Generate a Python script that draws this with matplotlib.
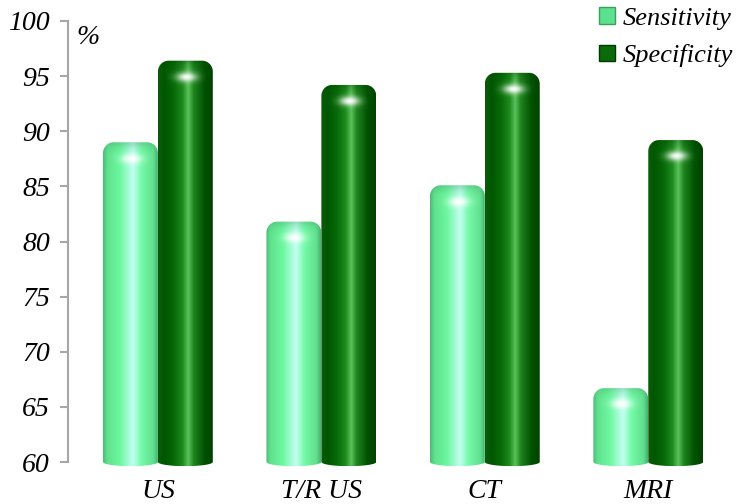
import numpy as np
import matplotlib
matplotlib.use("Agg")
import matplotlib.pyplot as plt
from matplotlib.path import Path
from matplotlib.patches import PathPatch, Patch

# imaging method accuracy (%)
categories = ["US", "T/R US", "CT", "MRI"]
sensitivity = [89.0, 81.8, 85.1, 66.7]
specificity = [96.4, 94.2, 95.3, 89.2]

plt.rcParams['font.family'] = ['Liberation Serif', 'DejaVu Serif']
plt.rcParams['font.style'] = 'italic'

fig = plt.figure(figsize=(7.37, 5.04), dpi=100)
ax = fig.add_axes([68 / 737, 42 / 504, 662 / 737, 441 / 504])

x = np.arange(len(categories))
w = 0.336
ymin, ymax = 60, 100

# horizontal colour profiles of the cylinders (position, rgb)
light_profile = [(0.00, (0.30, 0.74, 0.46)), (0.08, (0.38, 0.88, 0.56)),
                 (0.30, (0.42, 0.97, 0.62)), (0.55, (0.76, 1.00, 0.95)),
                 (0.70, (0.46, 0.98, 0.66)), (0.92, (0.38, 0.88, 0.56)),
                 (1.00, (0.28, 0.70, 0.44))]
dark_profile = [(0.00, (0.04, 0.36, 0.04)), (0.12, (0.00, 0.34, 0.00)),
                (0.30, (0.03, 0.42, 0.03)), (0.45, (0.12, 0.55, 0.12)),
                (0.55, (0.36, 0.76, 0.36)), (0.65, (0.12, 0.52, 0.12)),
                (0.85, (0.00, 0.32, 0.00)), (1.00, (0.00, 0.26, 0.00))]


def profile_rgb(profile, u):
    pos = [p for p, _ in profile]
    return np.stack([np.interp(u, pos, [c[i] for _, c in profile]) for i in range(3)], axis=-1)


def cylinder_path(x0, x1, top, bottom, rx, ry, dip):
    n = 20
    t = np.linspace(np.pi, 2 * np.pi, n)
    xc, hw = (x0 + x1) / 2, (x1 - x0) / 2
    bot = np.column_stack([xc + hw * np.cos(t), bottom + dip * np.sin(t)])
    a = np.linspace(0, np.pi / 2, n)
    right = np.column_stack([x1 - rx + rx * np.cos(a), top - ry + ry * np.sin(a)])
    left = np.column_stack([x0 + rx - rx * np.cos(a[::-1]), top - ry + ry * np.sin(a[::-1])])
    verts = np.vstack([bot, right, left, [[x0, bottom]]])
    codes = [Path.MOVETO] + [Path.LINETO] * (len(verts) - 2) + [Path.CLOSEPOLY]
    return Path(verts, codes)


def draw_cylinder(rect, profile, rim):
    x0, x1 = rect.get_x(), rect.get_x() + rect.get_width()
    top = rect.get_y() + rect.get_height()
    rx, ry, dip = 0.065, 1.0, 0.38
    bottom = ymin
    lo = bottom - dip
    nh, nw = 400, 120
    u = np.linspace(0, 1, nw)
    yy = np.linspace(top, lo, nh)[:, None]
    img = np.repeat(profile_rgb(profile, u)[None, :, :], nh, axis=0)
    # darker rim round the top cap
    d = np.clip((top - yy) / (ry * 1.3), 0, 1)
    shade = (1 - d) ** 2
    img = img * (1 - shade[..., None] * 0.4) + np.array(rim) * shade[..., None] * 0.4
    # specular spot on the cap
    g = np.exp(-(((u[None, :] - 0.52) / 0.18) ** 2) - (((yy - (top - 1.5)) / 0.42) ** 2))
    img = img + (1 - img) * g[..., None] * 0.97
    im = ax.imshow(np.clip(img, 0, 1), extent=(x0, x1, lo, top), aspect='auto',
                   interpolation='bilinear', zorder=3)
    clip = PathPatch(cylinder_path(x0, x1, top, bottom, rx, ry, dip),
                     transform=ax.transData, facecolor='none', edgecolor='none')
    ax.add_patch(clip)
    im.set_clip_path(clip)
    im.set_clip_box(fig.bbox)


bars_sens = ax.bar(x - w / 2, sensitivity, w, bottom=0, color='none', edgecolor='none')
bars_spec = ax.bar(x + w / 2, specificity, w, bottom=0, color='none', edgecolor='none')

for r in bars_sens:
    draw_cylinder(r, light_profile, (0.25, 0.62, 0.40))
for r in bars_spec:
    draw_cylinder(r, dark_profile, (0.02, 0.30, 0.02))

ax.set_xlim(-0.55, 3.5)
ax.set_ylim(ymin, ymax)
ax.set_yticks(np.arange(60, 101, 5))
ax.set_xticks(x)
ax.set_xticklabels(categories)

for s in ['top', 'right', 'bottom']:
    ax.spines[s].set_visible(False)
ax.spines['left'].set_color('#a6a6a6')
ax.spines['left'].set_linewidth(1.5)
ax.tick_params(axis='y', direction='out', length=6, width=1.5, color='#a6a6a6',
               labelsize=20, pad=7)
ax.tick_params(axis='x', length=0, labelsize=20, pad=12)

ax.text(0.012, 0.99, "%", transform=ax.transAxes, fontsize=20,
        va='top', ha='left')

handles = [Patch(facecolor='#5fe08f', edgecolor='#3aa060', label='Sensitivity'),
           Patch(facecolor='#0a6a0a', edgecolor='#003800', label='Specificity')]
leg = fig.legend(handles=handles, loc='upper right', bbox_to_anchor=(1.027, 1.033),
                 frameon=False, prop={'size': 19},
                 handlelength=0.6, handleheight=0.6, handletextpad=0.3,
                 labelspacing=0.55)

fig.savefig("out.png", dpi=100)
